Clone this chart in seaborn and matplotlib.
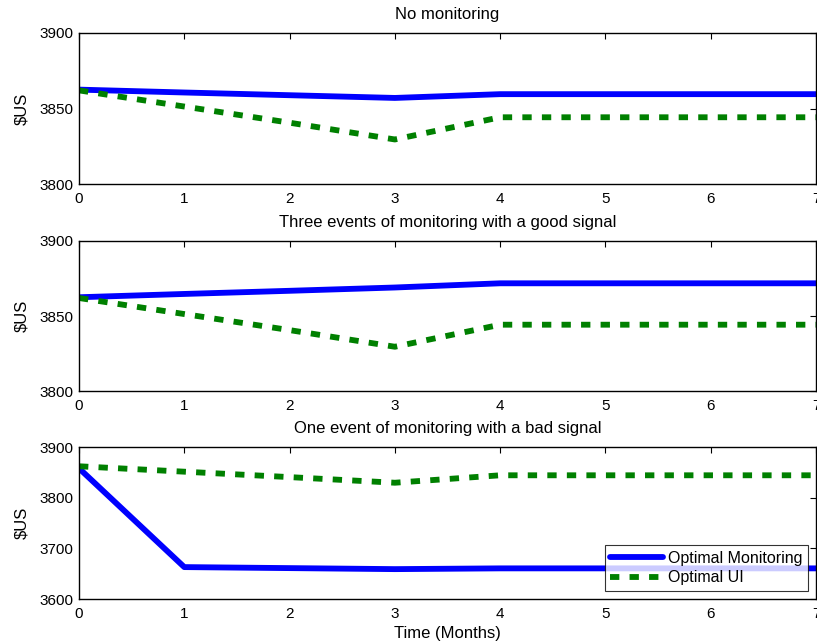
import numpy as np
import pandas as pd
import matplotlib
matplotlib.use("Agg")
import matplotlib.pyplot as plt
import seaborn as sns

months = [0, 1, 2, 3, 4, 5, 6, 7]

# Panel 1: No monitoring
p1_monitoring = [3862.5, 3860.6, 3858.8, 3857.0, 3859.5, 3859.5, 3859.5, 3859.5]
p1_ui = [3862.0, 3851.3, 3840.6, 3829.5, 3844.2, 3844.2, 3844.2, 3844.2]

# Panel 2: Three events of monitoring with a good signal
p2_monitoring = [3862.5, 3864.7, 3866.8, 3869.0, 3871.8, 3871.8, 3871.8, 3871.8]
p2_ui = [3862.0, 3851.3, 3840.6, 3829.5, 3844.2, 3844.2, 3844.2, 3844.2]

# Panel 3: One event of monitoring with a bad signal
p3_monitoring = [3858.0, 3663.0, 3661.0, 3659.0, 3660.5, 3660.5, 3660.5, 3660.5]
p3_ui = [3862.0, 3851.3, 3840.6, 3829.5, 3844.2, 3844.2, 3844.2, 3844.2]

titles = ["No monitoring",
          "Three events of monitoring with a good signal",
          "One event of monitoring with a bad signal"]
series_names = ["Optimal Monitoring", "Optimal UI"]
y_ranges = [(3800, 3900), (3800, 3900), (3600, 3900)]
y_ticks = [[3800, 3850, 3900], [3800, 3850, 3900], [3600, 3700, 3800, 3900]]

sns.set_style("white")
plt.rcParams['font.family'] = ['Liberation Sans', 'DejaVu Sans']
plt.rcParams['font.size'] = 11
plt.rcParams['text.color'] = 'black'
plt.rcParams['axes.labelcolor'] = 'black'
plt.rcParams['xtick.color'] = 'black'
plt.rcParams['ytick.color'] = 'black'

fig = plt.figure(figsize=(8.17, 6.43), dpi=100)

positions = [
    (0.0967, 0.7138, 0.9021, 0.2349),
    (0.0967, 0.3919, 0.9021, 0.2333),
    (0.0967, 0.0684, 0.9021, 0.2364),
]
panels = [(p1_monitoring, p1_ui), (p2_monitoring, p2_ui), (p3_monitoring, p3_ui)]
palette = {"Optimal Monitoring": (0, 0, 1), "Optimal UI": (0, 0.5, 0)}
dashes = {"Optimal Monitoring": "", "Optimal UI": (1.6, 1.75)}

for i, ((mon, ui), pos) in enumerate(zip(panels, positions)):
    ax = fig.add_axes(pos)
    df = pd.DataFrame({
        "Month": months * 2,
        "Value": mon + ui,
        "Series": [series_names[0]] * len(months) + [series_names[1]] * len(months),
    })
    sns.lineplot(data=df, x="Month", y="Value", hue="Series", style="Series",
                 palette=palette, dashes=dashes, linewidth=4.2, ax=ax,
                 legend=(i == 2))
    ax.set_xlim(0, 7)
    ax.set_ylim(*y_ranges[i])
    ax.set_xticks(months)
    ax.set_yticks(y_ticks[i])
    ax.set_xlabel("")
    ax.set_ylabel("\\$US", fontsize=12, labelpad=7, color="black")
    ax.set_title(titles[i], fontsize=12, pad=10, color="black")
    ax.tick_params(direction="in", length=4, width=0.8, top=True, right=True,
                   labelsize=11, colors="black")
    ax.tick_params(axis="x", pad=6)
    ax.tick_params(axis="y", pad=4)
    for s in ax.spines.values():
        s.set_color("black")
        s.set_linewidth(1.0)
    if i == 2:
        ax.set_xlabel("Time (Months)", fontsize=12, labelpad=3, color="black")
        leg = ax.legend(loc="lower right", fontsize=11.5, frameon=True,
                        fancybox=False, edgecolor="black", handlelength=3.3,
                        borderpad=0.35, labelspacing=0.3, handletextpad=0.3,
                        borderaxespad=0.5)
        leg.get_frame().set_linewidth(0.8)
        for t in leg.get_texts():
            t.set_color("black")

fig.savefig("out.png", dpi=100)
